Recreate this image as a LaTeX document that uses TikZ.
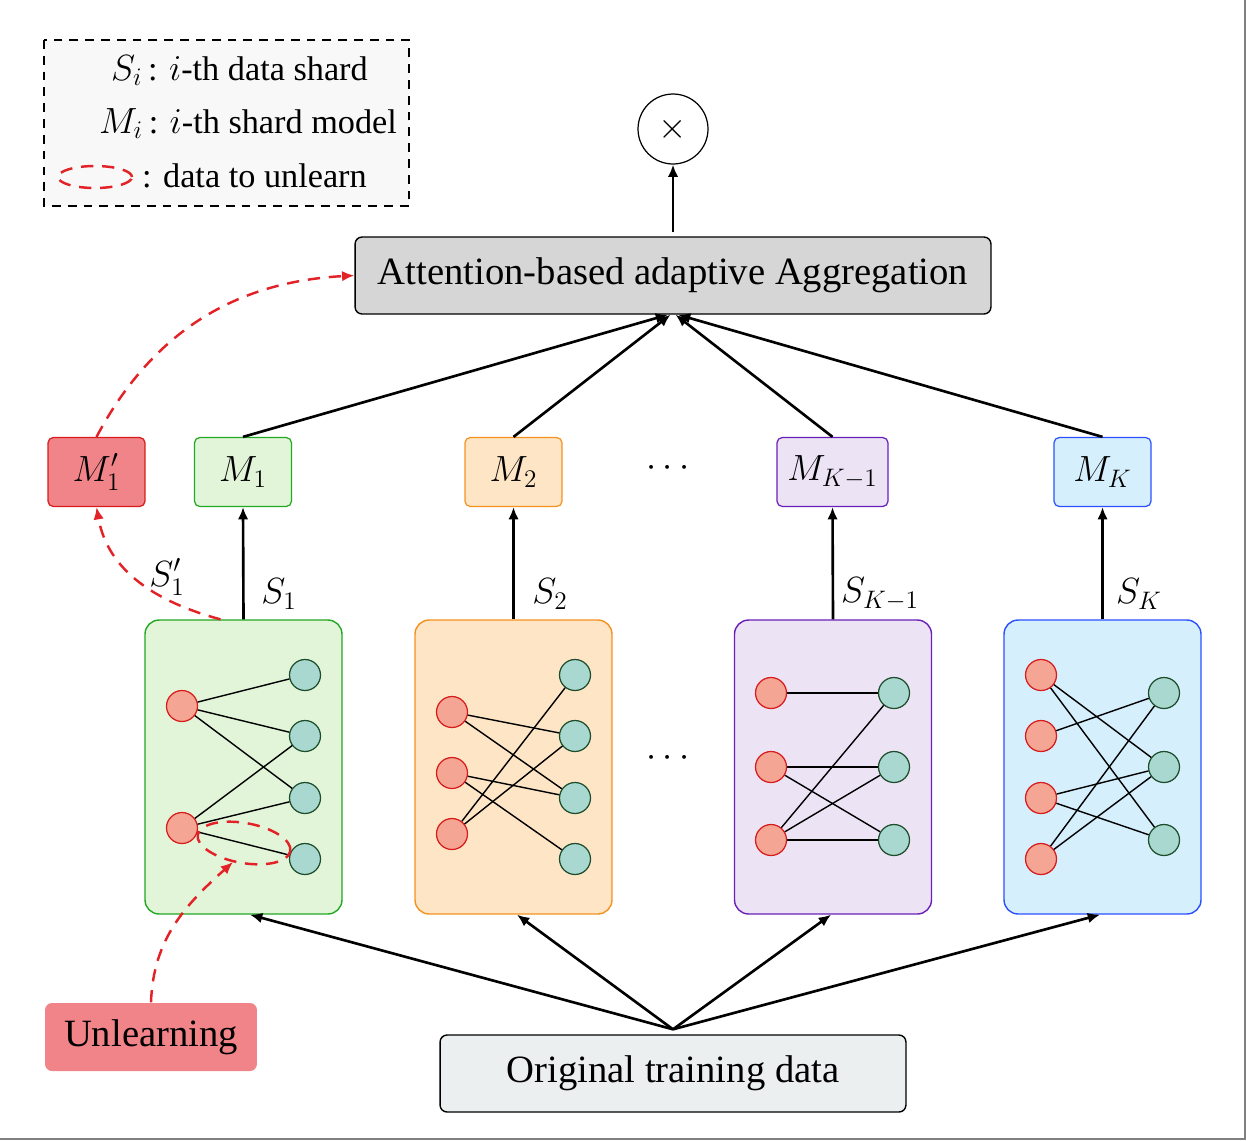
\documentclass[tikz,border=0pt]{standalone}
\usepackage{fontspec}
\setmainfont{Liberation Serif}
\usepackage{tikz}
\usetikzlibrary{arrows.meta,positioning,calc,shapes.geometric}
\definecolor{sgreen}{HTML}{22A822}
\definecolor{sgreenf}{HTML}{E2F5D9}
\definecolor{sorange}{HTML}{F5921E}
\definecolor{sorangef}{HTML}{FDE5C6}
\definecolor{spurple}{HTML}{6A1FB8}
\definecolor{spurplef}{HTML}{ECE3F5}
\definecolor{sblue}{HTML}{2B50FF}
\definecolor{sbluef}{HTML}{D5EFFC}
\definecolor{pred}{HTML}{D81B1B}
\definecolor{predf}{HTML}{F4A593}
\definecolor{pteal}{HTML}{1E4D2B}
\definecolor{ptealf}{HTML}{A8D8D0}
\definecolor{unl}{HTML}{F08489}
\definecolor{dred}{HTML}{E32228}
\definecolor{aggf}{HTML}{D6D6D6}
\definecolor{origf}{HTML}{EBEFF0}
\definecolor{legf}{HTML}{F8F8F8}
\tikzset{
  box/.style={draw=black,rounded corners=4pt,line width=0.8pt,align=center,font=\fontsize{22}{26}\selectfont,inner sep=4pt},
  mbox/.style={rounded corners=3pt,line width=0.7pt,minimum width=1.94cm,minimum height=1.38cm,font=\fontsize{22}{26}\selectfont,inner sep=2pt},
  shard/.style={rounded corners=8pt,line width=0.8pt,minimum width=3.94cm,minimum height=5.88cm},
  dpt/.style={circle,draw=pred,fill=predf,line width=0.7pt,minimum size=0.62cm,inner sep=0pt},
  tpt/.style={circle,draw=pteal,fill=ptealf,line width=0.7pt,minimum size=0.62cm,inner sep=0pt},
  arr/.style={-{Latex[length=7pt,width=6pt]},line width=1.5pt},
  edge/.style={line width=0.8pt},
  rarr/.style={-{Latex[length=7pt,width=6pt]},draw=dred,line width=1.4pt,dash pattern=on 7pt off 5pt},
  rdash/.style={draw=dred,line width=1.4pt,dash pattern=on 7pt off 5pt},
  lbl/.style={font=\fontsize{22}{26}\selectfont},
  lgd/.style={font=\fontsize{19.5}{24}\selectfont},
}
\begin{document}
\begin{tikzpicture}[x=0.02cm,y=-0.02cm]
\useasboundingbox (0,0) rectangle (1246,1140);
\draw[gray,line width=1pt] (1245,0) -- (1245,1139) -- (0,1139);

% legend
\draw[dashed,fill=legf,line width=0.7pt,dash pattern=on 5pt off 4pt] (44,40) rectangle (409,206);
\node[lgd,anchor=base west] (leg1) at (105,80) {$S_i$\,: $i$-th data shard};
\node[lgd,anchor=base west] (leg2) at (93,133) {$M_i$\,: $i$-th shard model};
\draw[rdash] (95,177) ellipse [x radius=0.74cm,y radius=0.22cm];
\node[lgd,anchor=base west] (leg3) at (136,187) {: data to unlearn};

% aggregation and output
\node[circle,draw,line width=0.7pt,minimum size=1.4cm,inner sep=0pt,font=\fontsize{22}{26}\selectfont] (mul) at (673,129) {$\times$};
\node[box,fill=aggf,minimum width=12.72cm,minimum height=1.54cm] (agg) at (673,275.5) {Attention-based adaptive Aggregation};
\draw[arr] ([yshift=0.08cm]agg.north) -- (mul.south);

% shard models
\node[mbox,draw=pred,fill=unl] (m1p) at (96.5,472) {$M_1'$};
\node[mbox,draw=sgreen,fill=sgreenf] (m1) at (243,472) {$M_1$};
\node[mbox,draw=sorange,fill=sorangef] (m2) at (513.5,472) {$M_2$};
\node[mbox,draw=spurple,fill=spurplef,minimum width=2.22cm] (mk1) at (832.5,472) {$M_{K-1}$};
\node[mbox,draw=sblue,fill=sbluef] (mk) at (1102.5,472) {$M_K$};
\node[lbl] (dots1) at (668,468) {$\cdots$};

\draw[arr] (m1.north) -- ([xshift=-0.1cm]agg.south);
\draw[arr] (m2.north) -- ([xshift=-0.05cm]agg.south);
\draw[arr] (mk1.north) -- ([xshift=0.05cm]agg.south);
\draw[arr] (mk.north) -- ([xshift=0.1cm]agg.south);

% shards
\node[shard,draw=sgreen,fill=sgreenf] (s1) at (243.5,767) {};
\node[shard,draw=sorange,fill=sorangef] (s2) at (513.5,767) {};
\node[shard,draw=spurple,fill=spurplef] (sk1) at (833,767) {};
\node[shard,draw=sblue,fill=sbluef] (sk) at (1102.5,767) {};
\node[lbl] (dots2) at (668,758) {$\cdots$};

\draw[arr] (s1.north) -- (m1.south);
\draw[arr] (s2.north) -- (m2.south);
\draw[arr] (sk1.north) -- (mk1.south);
\draw[arr] (sk.north) -- (mk.south);
\node[lbl] (l1) at (279,594) {$S_1$};
\node[lbl] (l2) at (550,594) {$S_2$};
\node[lbl] (lk1) at (880,594) {$S_{K-1}$};
\node[lbl] (lk) at (1139,594) {$S_K$};

% points inside the shards
\foreach \y [count=\i] in {706,828} \node[dpt] (a\i) at (182,\y) {};
\foreach \y [count=\i] in {675,736,798,859} \node[tpt] (b\i) at (305,\y) {};
\foreach \p/\q in {1/1,1/2,1/3,2/2,2/3,2/4} \draw[edge] (a\p) -- (b\q);

\foreach \y [count=\i] in {712,773,834} \node[dpt] (c\i) at (452,\y) {};
\foreach \y [count=\i] in {675,736,798,859} \node[tpt] (d\i) at (575,\y) {};
\foreach \p/\q in {1/2,1/3,2/3,2/4,3/1,3/2} \draw[edge] (c\p) -- (d\q);

\foreach \y [count=\i] in {693,767,840} \node[dpt] (e\i) at (771,\y) {};
\foreach \y [count=\i] in {693,767,840} \node[tpt] (f\i) at (894,\y) {};
\foreach \p/\q in {1/1,2/2,2/3,3/1,3/2,3/3} \draw[edge] (e\p) -- (f\q);

\foreach \y [count=\i] in {675,736,798,859} \node[dpt] (g\i) at (1041,\y) {};
\foreach \y [count=\i] in {693,767,840} \node[tpt] (h\i) at (1164,\y) {};
\foreach \p/\q in {1/2,1/3,2/1,3/2,3/3,4/1,4/2} \draw[edge] (g\p) -- (h\q);

% training data
\node[box,fill=origf,minimum width=9.32cm,minimum height=1.54cm] (orig) at (673,1073.5) {Original training data};
\coordinate (src) at ([yshift=0.1cm]orig.north);
\draw[arr] (src) -- ([xshift=0.13cm]s1.south);
\draw[arr] (src) -- ([xshift=0.07cm]s2.south);
\draw[arr] (src) -- ([xshift=-0.04cm]sk1.south);
\draw[arr] (src) -- ([xshift=-0.05cm]sk.south);

% unlearning path
\node[box,draw=none,fill=unl,minimum width=4.24cm,minimum height=1.36cm] (unlrn) at (151,1037) {Unlearning};
\draw[rdash] (244,843) ellipse [x radius=0.94cm,y radius=0.40cm,rotate=-10];
\coordinate (hit) at (233,862);
\draw[rarr] (unlrn.north) to[out=88,in=222] (hit);
\draw[rarr] ([xshift=-0.46cm]s1.north) to[out=165,in=-80] (m1p.south);
\node[lbl] (l1p) at (167,577) {$S_1'$};
\draw[rarr] (m1p.north) to[out=62,in=183] (agg.west);
\end{tikzpicture}
\end{document}
